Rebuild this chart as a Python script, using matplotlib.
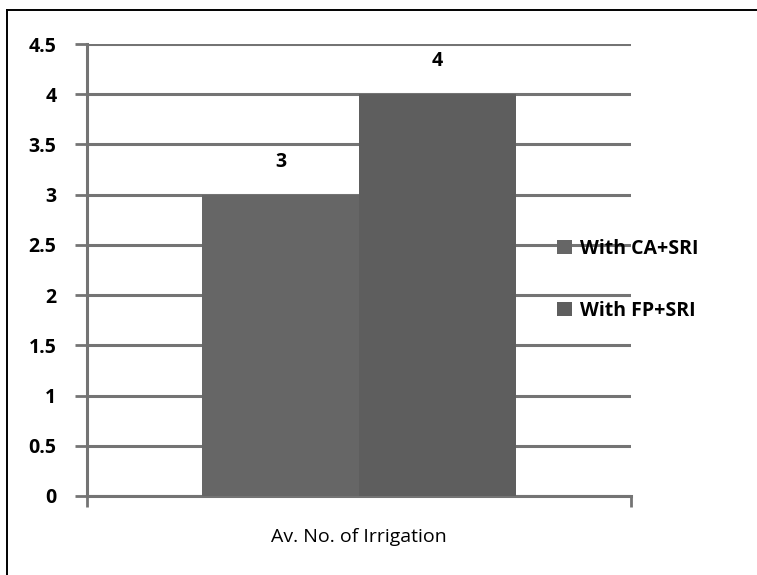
import matplotlib.pyplot as plt
from matplotlib.lines import Line2D

category = "Av. No. of Irrigation"
series = ["With CA+SRI", "With FP+SRI"]
values = [3, 4]
colors = ["#666666", "#5e5e5e"]
yticks = [0, 0.5, 1, 1.5, 2, 2.5, 3, 3.5, 4, 4.5]

plt.rcParams['font.family'] = ['Open Sans', 'DejaVu Sans']

fig = plt.figure(figsize=(7.57, 5.75), dpi=100)
ax = fig.add_axes([0.1149, 0.1374, 0.7186, 0.786])

# outer chart frame (only top and left edges visible)
fig.lines.append(Line2D([0.0093, 1.0], [0.982, 0.982], transform=fig.transFigure,
                        color="black", linewidth=1.4))
fig.lines.append(Line2D([0.0093, 0.0093], [0.0, 0.982], transform=fig.transFigure,
                        color="black", linewidth=1.4))

w = 0.2886
xs = [0.5 - w / 2, 0.5 + w / 2]
for x, v, c, s in zip(xs, values, colors, series):
    ax.bar(x, v, width=w, color=c, label=s, zorder=3)
    ax.text(x, v + 0.33, str(v), ha="center", va="center", fontsize=14,
            fontweight="bold", color="black")

ax.set_xlim(0, 1)
ax.set_ylim(0, 4.5)
ax.set_yticks(yticks)
ax.set_yticklabels([f"{t:g}" for t in yticks], fontsize=14, fontweight="bold")
ax.yaxis.grid(True, color="#747474", linewidth=2.2, zorder=0)
ax.set_axisbelow(True)

ax.set_xticks([0, 1])
ax.set_xticklabels(["", ""])
ax.tick_params(axis="x", direction="out", length=8, width=2, color="#747474")
ax.tick_params(axis="y", direction="out", length=9, width=2, color="#747474", pad=13)
ax.text(0.5, -0.09, category, transform=ax.transAxes, ha="center", va="center",
        fontsize=14)

for sp in ["top", "right"]:
    ax.spines[sp].set_visible(False)
for sp in ["left", "bottom"]:
    ax.spines[sp].set_color("#747474")
    ax.spines[sp].set_linewidth(2.2)

fig.legend(loc="center left", bbox_to_anchor=(0.713, 0.513), frameon=False,
           handlelength=0.75, handleheight=0.75, handletextpad=0.4,
           labelspacing=2.15, prop={"weight": "bold", "size": 14})

fig.savefig("out.png", dpi=100)
